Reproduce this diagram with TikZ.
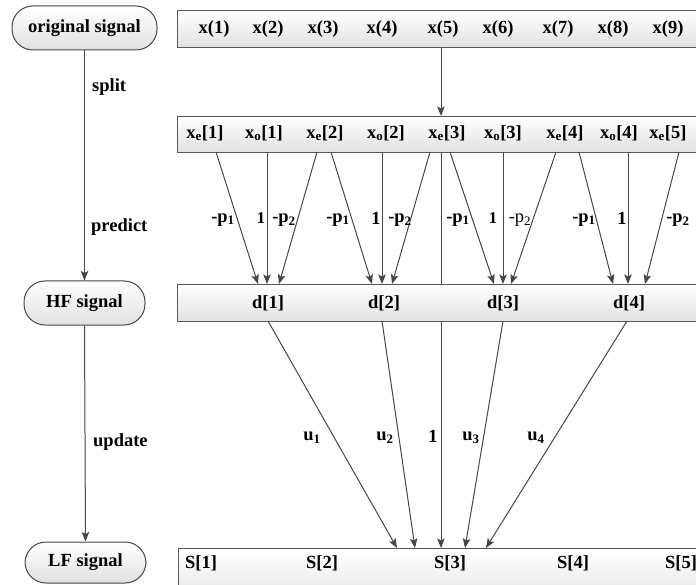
\documentclass[tikz,border=0pt]{standalone}
\usepackage{fontspec}
\setmainfont{Liberation Serif}
\usetikzlibrary{arrows.meta,backgrounds}
\begin{document}
\begin{tikzpicture}[x=1pt,y=-1pt,
  font=\fontsize{18.5}{22}\selectfont\bfseries,
  line/.style={draw=black!72, line width=1pt},
  arr/.style={line, -{Stealth[length=9.5pt,width=7.5pt,inset=2pt]}},
  rowbox/.style={draw=black!65, line width=1pt, top color=white, bottom color=black!12,
                 anchor=north west, minimum height=37pt, minimum width=540pt, inner sep=0pt},
  pill/.style={draw=black!72, line width=1pt, rounded corners=21pt, top color=white,
               bottom color=black!12, minimum height=44pt, inner sep=0pt},
  stage/.style={anchor=west, inner sep=0pt},
  txt/.style={inner sep=0pt},
  small/.style={inner sep=0pt, font=\fontsize{16.5}{19}\selectfont\bfseries},
]
\useasboundingbox (0,0) rectangle (696,585);
\clip (0,0) rectangle (696,585);

% ---------- left column: stages ----------
\node[pill, minimum width=145pt] (orig) at (84.5,28) {original signal};
\node[pill, minimum width=121pt] (hf) at (84.5,303) {HF signal};
\node[pill, minimum width=121pt, minimum height=41pt] (lf) at (85.5,562.5) {LF signal};
\draw[arr] (orig.south) -- (hf.north);
\draw[arr] (hf.south) -- (lf.north);
\node[stage] (split) at (92,87) {split};
\node[stage] (predict) at (91,227) {predict};
\node[stage] (update) at (93,442) {update};

% ---------- rows ----------
\node[rowbox] (rowX) at (177,10) {};
\node[rowbox, minimum height=36pt] (rowE) at (177,116) {};
\node[rowbox] (rowD) at (177,284) {};
\node[rowbox, minimum height=60pt] (rowS) at (178,548) {};

% original samples
\foreach \i/\x in {1/214,2/268,3/323,4/382,5/443,6/498,7/558,8/613,9/668}
  \node[txt] (x\i) at (\x,29) {x(\i)};

% split samples
\node[txt] (xe1) at (205,133) {x\textsubscript{e}[1]};
\node[txt] (xo1) at (264,133) {x\textsubscript{o}[1]};
\node[txt] (xe2) at (325,133) {x\textsubscript{e}[2]};
\node[txt] (xo2) at (386,133) {x\textsubscript{o}[2]};
\node[txt] (xe3) at (447,133) {x\textsubscript{e}[3]};
\node[txt] (xo3) at (503,133) {x\textsubscript{o}[3]};
\node[txt] (xe4) at (565,133) {x\textsubscript{e}[4]};
\node[txt] (xo4) at (619,133) {x\textsubscript{o}[4]};
\node[txt] (xe5) at (668,133) {x\textsubscript{e}[5]};

% details
\foreach \i/\x in {1/268,2/384,3/503,4/629}
  \node[txt] (d\i) at (\x,303) {d[\i]};

% approximations
\foreach \i/\x in {1/201,2/322,3/450,4/573,5/681}
  \node[txt] (s\i) at (\x,563) {S[\i]};

% ---------- split ----------
\coordinate (splitA) at (441,47);
\coordinate (splitB) at (441,116);
\draw[arr] (splitA) -- (splitB);

% ---------- predict ----------
\foreach \n/\a/\b in {1/216/258, 2/267/267, 3/317/279,
                      4/331/372, 5/382/382, 6/430/392,
                      7/450/494, 8/503/503, 9/556/511,
                      10/579/613, 11/628/628, 12/679/645} {
  \coordinate (ps\n) at (\a,152);
  \coordinate (pt\n) at (\b,284);
  \draw[arr] (ps\n) -- (pt\n);
}
\node[txt] (pa1) at (223,220) {-p\textsubscript{1}};
\node[small] (pa2) at (261,218) {1};
\node[txt] (pa3) at (284,220) {-p\textsubscript{2}};
\node[txt] (pb1) at (338,220) {-p\textsubscript{1}};
\node[txt] (pb2) at (376,218) {1};
\node[txt] (pb3) at (400,220) {-p\textsubscript{2}};
\node[txt] (pc1) at (458,220) {-p\textsubscript{1}};
\node[small] (pc2) at (493,218) {1};
\node[txt, font=\fontsize{18.5}{22}\selectfont\mdseries] (pc3) at (520,220) {-p\textsubscript{2}};
\node[txt] (pd1) at (584,220) {-p\textsubscript{1}};
\node[txt] (pd2) at (622,218) {1};
\node[txt] (pd3) at (678,220) {-p\textsubscript{2}};

% ---------- update ----------
\coordinate (keepA) at (441,152);
\coordinate (keepB) at (441,548);
\begin{pgfonlayer}{background}
  \draw[arr] (keepA) -- (keepB);
\end{pgfonlayer}
\foreach \n/\a/\b in {1/268/397, 2/382/415, 3/503/465, 4/627/486} {
  \coordinate (us\n) at (\a,321);
  \coordinate (ut\n) at (\b,548);
  \draw[arr] (us\n) -- (ut\n);
}
\node[txt] (u1) at (312,438) {u\textsubscript{1}};
\node[txt] (u2) at (385,438) {u\textsubscript{2}};
\node[txt] (uk) at (433,436) {1};
\node[txt] (u3) at (471,438) {u\textsubscript{3}};
\node[txt] (u4) at (536,438) {u\textsubscript{4}};
\end{tikzpicture}
\end{document}
